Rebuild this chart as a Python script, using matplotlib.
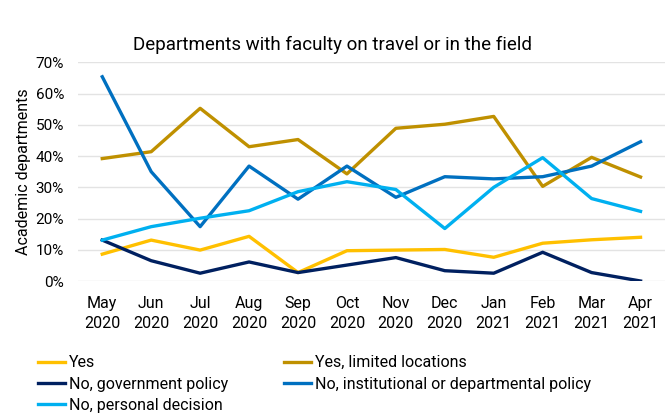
import matplotlib.pyplot as plt
from matplotlib.ticker import PercentFormatter

months = ['May\n2020', 'Jun\n2020', 'Jul\n2020', 'Aug\n2020', 'Sep\n2020', 'Oct\n2020',
          'Nov\n2020', 'Dec\n2020', 'Jan\n2021', 'Feb\n2021', 'Mar\n2021', 'Apr\n2021']

yes = [8.6, 13.1, 9.9, 14.3, 2.7, 9.7, 9.9, 10.1, 7.6, 12.1, 13.2, 14.0]
yes_limited = [39.2, 41.4, 55.3, 43.0, 45.3, 34.3, 48.9, 50.2, 52.7, 30.3, 39.6, 33.3]
no_gov = [13.1, 6.5, 2.5, 6.1, 2.7, 5.1, 7.5, 3.3, 2.5, 9.2, 2.7, 0.0]
no_inst = [65.4, 35.0, 17.4, 36.8, 26.2, 36.8, 26.8, 33.4, 32.7, 33.4, 36.8, 44.6]
no_personal = [13.1, 17.4, 20.1, 22.5, 28.6, 31.8, 29.3, 16.8, 30.0, 39.5, 26.4, 22.3]

plt.rcParams['font.family'] = ['Roboto', 'DejaVu Sans']

fig = plt.figure(figsize=(6.65, 4.16), dpi=100)
ax = fig.add_axes([0.117, 0.3245, 0.883, 0.5255])

x = range(len(months))
lw = 2.4
l_yes, = ax.plot(x, yes, color='#FFC000', lw=lw, label='Yes')
l_lim, = ax.plot(x, yes_limited, color='#BF9000', lw=lw, label='Yes, limited locations')
l_gov, = ax.plot(x, no_gov, color='#002060', lw=lw, label='No, government policy')
l_inst, = ax.plot(x, no_inst, color='#0070C0', lw=lw, label='No, institutional or departmental policy')
l_pers, = ax.plot(x, no_personal, color='#00B0F0', lw=lw, label='No, personal decision')

ax.set_xlim(-0.5, len(months) - 0.5)
ax.set_ylim(0, 70)
ax.set_yticks(range(0, 71, 10))
ax.yaxis.set_major_formatter(PercentFormatter(decimals=0))
ax.set_xticks(list(x))
ax.set_xticklabels(months, linespacing=1.4)
ax.tick_params(length=0, colors='black')
ax.tick_params(axis='x', labelsize=11.5, pad=11)
ax.tick_params(axis='y', labelsize=11, pad=10)
ax.grid(axis='y', color='#E3E3E3', lw=1)
ax.set_axisbelow(True)
for s in ax.spines.values():
    s.set_visible(False)

ax.set_ylabel('Academic departments', fontsize=11.5, labelpad=3)

fig.text(0.5, 0.892, 'Departments with faculty on travel or in the field',
         ha='center', va='center', fontsize=13.5)

fig.legend(handles=[l_yes, l_gov, l_pers, l_lim, l_inst], ncol=2, frameon=False,
           loc='upper left', bbox_to_anchor=(0.057, 0.146), fontsize=11.5,
           handlelength=1.7, handletextpad=0.25, columnspacing=3.5,
           labelspacing=0.4, borderaxespad=0, borderpad=0)

fig.savefig('out.png', dpi=100)
